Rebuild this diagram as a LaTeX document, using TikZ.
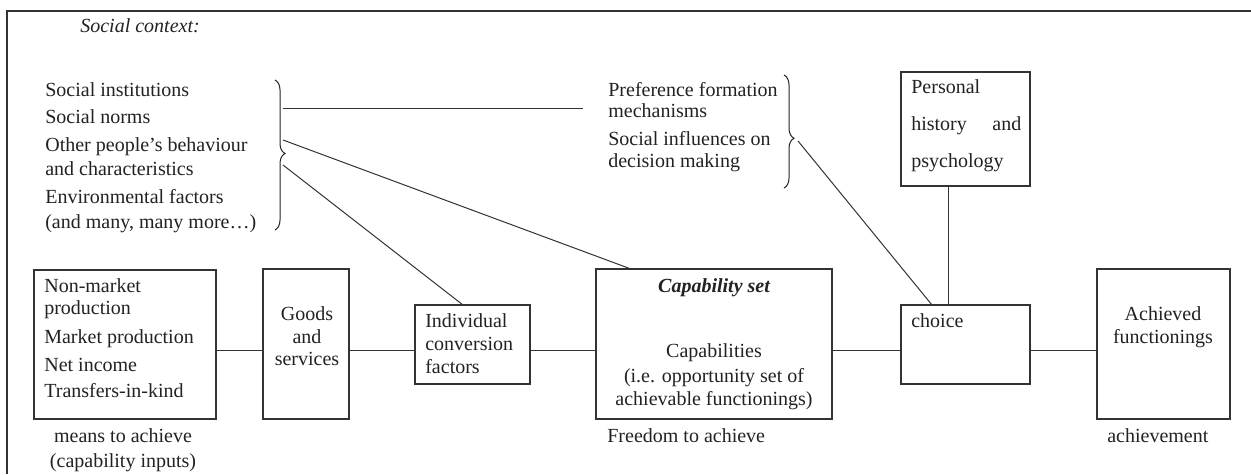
\documentclass[tikz,border=0pt]{standalone}
\usepackage{fontspec}
\setmainfont{Liberation Serif}
\usetikzlibrary{fit,decorations.pathreplacing}
\definecolor{ink}{HTML}{222222}
\definecolor{edge}{HTML}{333333}
\begin{document}
\begin{tikzpicture}[x=0.6pt,y=-0.6pt,
  txt/.style={inner sep=0, anchor=base west, font=\fontsize{12}{14}\selectfont, text=ink},
  ctxt/.style={txt, anchor=base},
  box/.style={draw=edge, line width=0.7pt, inner sep=0, outer sep=0},
  conn/.style={draw=edge, line width=0.6pt},
  frame/.style={draw=edge, line width=1pt},
  bracestyle/.style={draw=ink, line width=0.6pt, decorate, decoration={brace, amplitude=6pt, aspect=#1}}]
\useasboundingbox (0,0) rectangle (1251,474);
\fill[white] (0,0) rectangle (1251,474);
% outer frame (only top and left visible)
\draw[frame] (7,474) -- (7,11) -- (1251,11);

% texts: social context
\node[txt, font=\fontsize{12}{14}\selectfont\itshape] (sc) at (80,32) {Social context:};
\node[txt] (l1) at (45,96) {Social institutions};
\node[txt] (l2) at (45,123) {Social norms};
\node[txt] (l3) at (45,151) {Other people’s behaviour};
\node[txt] (l4) at (45,175) {and characteristics};
\node[txt] (l5) at (45,203) {Environmental factors};
\node[txt] (l6) at (45,228) {(and many, many more\ldots)};

\node[txt] (p1) at (608,96) {Preference formation};
\node[txt] (p2) at (608,117) {mechanisms};
\node[txt] (p3) at (608,145) {Social influences on};
\node[txt] (p4) at (608,167) {decision making};

% braces
\draw[bracestyle=0.49] (275,80) -- (275,230);
\draw[bracestyle=0.56] (784,75) -- (784,188);
\coordinate (bA) at (283,108);
\coordinate (bB) at (283,140);
\coordinate (bC) at (283,165);
\coordinate (bD) at (583,108);
\coordinate (bP) at (798,141);

% boxes
\node[box, fit={(34,270) (216,419)}] (means) {};
\node[box, fit={(263,269) (349,419)}] (goods) {};
\node[box, fit={(415,305) (530,384)}] (ic) {};
\node[box, fit={(596,269) (832,419)}] (cap) {};
\node[box, fit={(901,305) (1030,384)}] (choice) {};
\node[box, fit={(1097,269) (1230,419)}] (ach) {};
\node[box, fit={(901,72) (1030,186)}] (pers) {};

% box texts
\node[txt] (m1) at (44,292) {Non-market};
\node[txt] (m2) at (44,314) {production};
\node[txt] (m3) at (44,343) {Market production};
\node[txt] (m4) at (44,371) {Net income};
\node[txt] (m5) at (44,397) {Transfers-in-kind};

\node[ctxt] (g1) at (307,320) {Goods};
\node[ctxt] (g2) at (307,343) {and};
\node[ctxt] (g3) at (307,365) {services};

\node[txt] (i1) at (425,327) {Individual};
\node[txt] (i2) at (425,350) {conversion};
\node[txt] (i3) at (425,373) {factors};

\node[ctxt, font=\fontsize{12}{14}\selectfont\bfseries\itshape] (c0) at (714,292) {Capability set};
\node[ctxt] (c1) at (714,357) {Capabilities};
\node[ctxt] (c2) at (714,382) {(i.e. opportunity set of};
\node[ctxt] (c3) at (714,405) {achievable functionings)};

\node[txt] (ch) at (911,327) {choice};

\node[ctxt] (a1) at (1163,320) {Achieved};
\node[ctxt] (a2) at (1163,343) {functionings};

\node[txt] (h1) at (911,93) {Personal};
\node[txt] (h2) at (911,130) {\makebox[66pt][s]{history and}};
\node[txt] (h3) at (911,167) {psychology};

% captions
\node[ctxt] (u1) at (123,442) {means to achieve};
\node[ctxt] (u2) at (123,467) {(capability inputs)};
\node[txt] (u3) at (607,442) {Freedom to achieve};
\node[txt] (u4) at (1107,442) {achievement};

% connectors
\coordinate (row) at (0,350);
\draw[conn] (means.east |- row) -- (goods.west |- row);
\draw[conn] (goods.east |- row) -- (ic.west |- row);
\draw[conn] (ic.east |- row) -- (cap.west |- row);
\draw[conn] (cap.east |- row) -- (choice.west |- row);
\draw[conn] (choice.east |- row) -- (ach.west |- row);

\coordinate (vx) at (948,0);
\draw[conn] (pers.south -| vx) -- (choice.north -| vx);
\coordinate (cx) at (932,0);
\draw[conn] (bP) -- (choice.north -| cx);
\draw[conn] (bA) -- (bD);
\coordinate (capx) at (631,0);
\draw[conn] (bB) -- (cap.north -| capx);
\coordinate (icx) at (463,0);
\draw[conn] (bC) -- (ic.north -| icx);
\end{tikzpicture}
\end{document}
